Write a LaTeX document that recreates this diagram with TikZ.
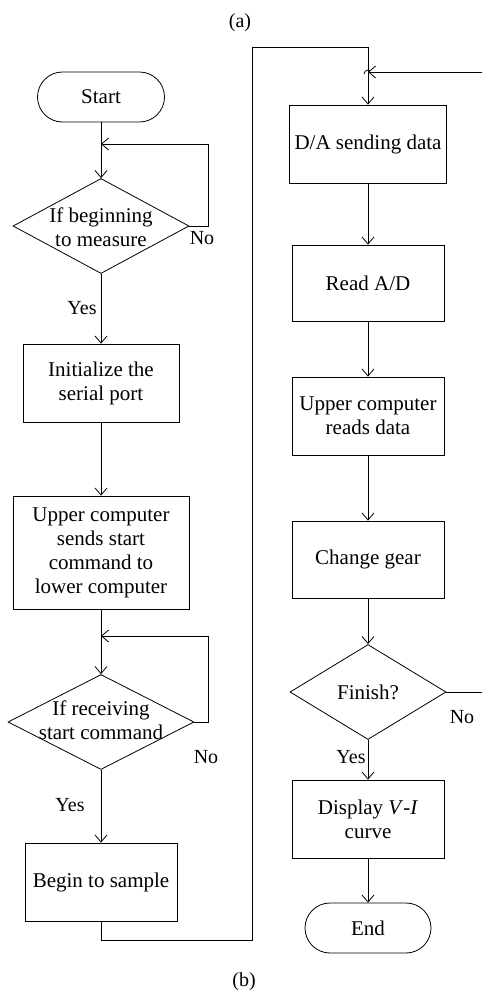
\documentclass[tikz,border=0pt]{standalone}
\usepackage{fontspec}
\setmainfont{Liberation Serif}
\usetikzlibrary{arrows.meta,shapes.geometric}

\tikzset{
  x=1pt, y=-1pt,
  every path/.style={line width=0.8pt},
  arr/.style={-{Straight Barb[length=7pt,width=12pt,line width=0.8pt]}},
  txt/.style={align=center, font=\fontsize{21}{24}\selectfont, inner sep=0pt},
  procbox/.style={draw, rectangle, align=center, font=\fontsize{21}{24}\selectfont, inner sep=2pt},
  termbox/.style={draw, rectangle, rounded corners=25pt, minimum height=50pt, font=\fontsize{21}{24}\selectfont},
  decbox/.style={draw, diamond, inner sep=0pt},
  lbl/.style={font=\fontsize{20}{24}\selectfont, inner sep=0pt}
}

\begin{document}
\begin{tikzpicture}
\useasboundingbox (0,0) rectangle (482,996);

% captions
\node[lbl] (capa) at (240,23) {(a)};
\node[lbl] (capb) at (244,982) {(b)};

% left column
\node[termbox, minimum width=127pt] (start) at (101,97) {Start};
\node[decbox, minimum width=176pt, minimum height=95pt] (d1) at (101,226) {};
\node[txt] (d1t) at (101,227) {If beginning\\to measure};
\node[procbox, minimum width=156pt, minimum height=78pt] (init) at (101,383) {Initialize the\\serial port};
\node[procbox, minimum width=176pt, minimum height=113pt] (cmd) at (101,552.5) {Upper computer\\sends start\\command to\\lower computer};
\node[decbox, minimum width=186pt, minimum height=95pt] (d2) at (101,722) {};
\node[txt] (d2t) at (101,720) {If receiving\\start command};
\node[procbox, minimum width=152pt, minimum height=78pt] (sample) at (101,882) {Begin to sample};

% right column
\node[procbox, minimum width=157pt, minimum height=78pt] (da) at (368,144) {D/A sending data};
\node[procbox, minimum width=152pt, minimum height=76pt] (read) at (368,283) {Read A/D};
\node[procbox, minimum width=152pt, minimum height=78pt] (upper) at (368,416) {Upper computer\\reads data};
\node[procbox, minimum width=152pt, minimum height=77pt] (gear) at (368,559.5) {Change gear};
\node[decbox, minimum width=156pt, minimum height=95pt] (fin) at (368,692) {};
\node[txt] (fint) at (368,692) {Finish?};
\node[procbox, minimum width=152pt, minimum height=78pt] (disp) at (368,819) {Display \textit{V}\/-\textit{I}\\curve};
\node[termbox, minimum width=126pt] (end) at (368,928) {End};

% branch labels
\node[lbl] (no1) at (202,238) {No};
\node[lbl] (yes1) at (82,308) {Yes};
\node[lbl] (no2) at (206,757) {No};
\node[lbl] (yes2) at (70,805) {Yes};
\node[lbl] (no3) at (462,717) {No};
\node[lbl] (yes3) at (351,757) {Yes};

% junction points
\coordinate (j1) at (101,144);
\coordinate (j2) at (101,636);
\coordinate (j3) at (368,72);
\coordinate (r1) at (252,940);
\coordinate (r2) at (252,47);
\coordinate (e1) at (482,692);
\coordinate (e2) at (482,72);

% left column flow
\draw[arr] (start) -- (d1);
\draw[arr] (d1.east) -- ++(19,0) |- (j1);
\draw[arr] (d1) -- (init);
\draw[arr] (init) -- (cmd);
\draw[arr] (cmd) -- (d2);
\draw[arr] (d2.east) -- ++(14,0) |- (j2);
\draw[arr] (d2) -- (sample);

% link between the columns
\draw[arr] (sample.south) |- (r1) -- (r2) -| (da.north);

% right column flow
\draw[arr] (da) -- (read);
\draw[arr] (read) -- (upper);
\draw[arr] (upper) -- (gear);
\draw[arr] (gear) -- (fin);
\draw[arr] (fin) -- (disp);
\draw[arr] (disp) -- (end);

% return loop from the decision
\draw (fin.east) -- (e1);
\draw[arr] (e2) -- (j3);
\draw ([shift={(-4,2)}]j3) arc[start angle=180, end angle=60, radius=4pt];
\end{tikzpicture}
\end{document}
